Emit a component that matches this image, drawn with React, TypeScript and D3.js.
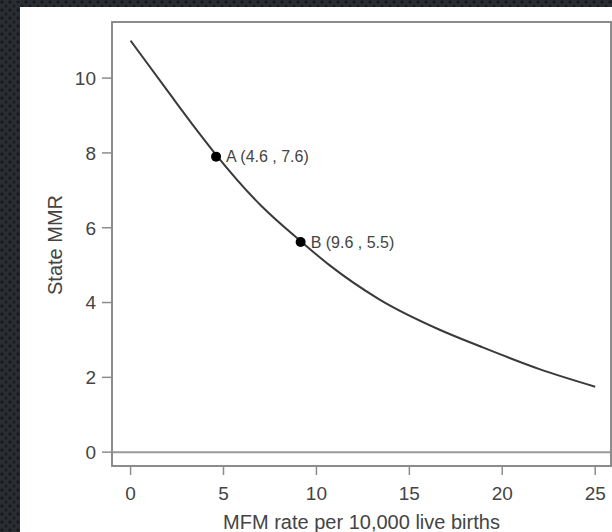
import React, { useRef, useEffect } from "react";
import { select, line, curveMonotoneX, scaleLinear } from "d3";

// curve
const curveX = [0, 2, 3.5, 4.6, 7, 9.2, 10.7, 13.4, 16.6, 18.8, 22, 25];
const curveY = [11.0, 9.65, 8.65, 7.95, 6.6, 5.62, 5.0, 4.08, 3.28, 2.83, 2.22, 1.75];

// marked points
const pointNames = ["A (4.6 , 7.6)", "B (9.6 , 5.5)"];
const pointX = [4.6, 9.15];
const pointY = [7.9, 5.62];

const xTicks = [0, 5, 10, 15, 20, 25];
const yTicks = [0, 2, 4, 6, 8, 10];

const xTitle = "MFM rate per 10,000 live births";
const yTitle = "State MMR";

const App = () => {
    const svgRef = useRef<SVGSVGElement>(null);

    useEffect(() => {
        const svg = select(svgRef.current);
        svg.selectAll("*").remove();

        const left = 112, right = 611, top = 22, bottom = 466;
        const xScale = scaleLinear().domain([-1, 25.85]).range([left, right]);
        const yScale = scaleLinear().domain([-0.37, 11.5]).range([bottom, top]);

        // dark dotted backdrop
        const defs = svg.append("defs");
        const pat = defs.append("pattern")
            .attr("id", "dots")
            .attr("width", 8)
            .attr("height", 8)
            .attr("patternUnits", "userSpaceOnUse");
        pat.append("rect").attr("width", 8).attr("height", 8).attr("fill", "#2a2d31");
        pat.append("circle").attr("cx", 2).attr("cy", 2).attr("r", 1.6).attr("fill", "#15171a");
        pat.append("circle").attr("cx", 6).attr("cy", 6).attr("r", 1.6).attr("fill", "#1b1d20");

        svg.append("rect").attr("width", 612).attr("height", 532).attr("fill", "url(#dots)");
        svg.append("rect").attr("x", 20).attr("y", 7).attr("width", 592).attr("height", 525).attr("fill", "#ffffff");

        const font = "Liberation Sans, Arial, sans-serif";

        // zero line
        svg.append("line")
            .attr("x1", left).attr("x2", right)
            .attr("y1", yScale(0)).attr("y2", yScale(0))
            .attr("stroke", "#9a9a9a").attr("stroke-width", 2);

        // frame
        svg.append("rect")
            .attr("x", left).attr("y", top)
            .attr("width", right - left).attr("height", bottom - top)
            .attr("fill", "none").attr("stroke", "#8c8c8c").attr("stroke-width", 2);

        // x ticks
        const gx = svg.append("g");
        gx.selectAll("line").data(xTicks).join("line")
            .attr("x1", d => xScale(d)).attr("x2", d => xScale(d))
            .attr("y1", bottom).attr("y2", bottom + 9)
            .attr("stroke", "#8c8c8c").attr("stroke-width", 1.5);
        gx.selectAll("text").data(xTicks).join("text")
            .attr("x", d => xScale(d)).attr("y", 500)
            .attr("text-anchor", "middle")
            .attr("font-family", font).attr("font-size", 19).attr("fill", "#444")
            .text(d => d);

        // y ticks
        const gy = svg.append("g");
        gy.selectAll("line").data(yTicks).join("line")
            .attr("x1", left - 10).attr("x2", left)
            .attr("y1", d => yScale(d)).attr("y2", d => yScale(d))
            .attr("stroke", "#8c8c8c").attr("stroke-width", 1.5);
        gy.selectAll("text").data(yTicks).join("text")
            .attr("x", 96).attr("y", d => yScale(d))
            .attr("dy", "0.36em")
            .attr("text-anchor", "end")
            .attr("font-family", font).attr("font-size", 19).attr("fill", "#444")
            .text(d => d);

        // titles
        svg.append("text")
            .attr("x", (left + right) / 2).attr("y", 529)
            .attr("text-anchor", "middle")
            .attr("font-family", font).attr("font-size", 20).attr("fill", "#444")
            .text(xTitle);
        svg.append("text")
            .attr("transform", "translate(62,245) rotate(-90)")
            .attr("text-anchor", "middle")
            .attr("font-family", font).attr("font-size", 20).attr("fill", "#444")
            .text(yTitle);

        // the curve
        const myLine = line<number>()
            .x((d, i) => xScale(curveX[i]))
            .y(d => yScale(d))
            .curve(curveMonotoneX);
        svg.append("path")
            .attr("d", myLine(curveY))
            .attr("fill", "none")
            .attr("stroke", "#3a3a3a")
            .attr("stroke-width", 2);

        // marked points
        const pts = svg.append("g");
        pts.selectAll("circle").data(pointNames).join("circle")
            .attr("cx", (d, i) => xScale(pointX[i]))
            .attr("cy", (d, i) => yScale(pointY[i]))
            .attr("r", 5)
            .attr("fill", "#000");
        pts.selectAll("text").data(pointNames).join("text")
            .attr("x", (d, i) => xScale(pointX[i]) + 10)
            .attr("y", (d, i) => yScale(pointY[i]))
            .attr("dy", "0.36em")
            .attr("font-family", font).attr("font-size", 16).attr("fill", "#444")
            .text(d => d);
    }, []);

    return (
        <div style={{ position: "absolute", left: 0, top: 0 }}>
            <svg ref={svgRef} width={612} height={532} style={{ display: "block" }} />
        </div>
    );
};

export default App;
